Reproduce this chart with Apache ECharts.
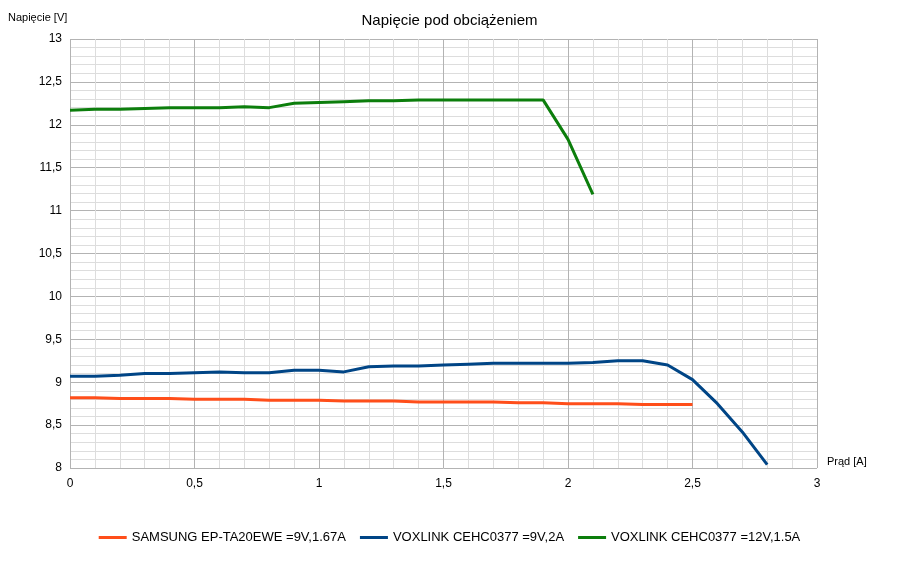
<!DOCTYPE html><html><head><meta charset="utf-8"><script src="https://cdn.jsdelivr.net/npm/echarts@6/dist/echarts.min.js"></script></head><body style="margin:0"><div id="c" style="width:899px;height:577px"></div><script>
const samsung=[8.82,8.82,8.81,8.81,8.81,8.80,8.80,8.80,8.79,8.79,8.79,8.78,8.78,8.78,8.77,8.77,8.77,8.77,8.76,8.76,8.75,8.75,8.75,8.74,8.74,8.74];
const vox9=[9.07,9.07,9.08,9.10,9.10,9.11,9.12,9.11,9.11,9.14,9.14,9.12,9.18,9.19,9.19,9.20,9.21,9.22,9.22,9.22,9.22,9.23,9.25,9.25,9.20,9.03,8.75,8.42,8.04];
const vox12=[12.17,12.18,12.18,12.19,12.20,12.20,12.20,12.21,12.20,12.25,12.26,12.27,12.28,12.28,12.29,12.29,12.29,12.29,12.29,12.29,11.83,11.19];
const names=['SAMSUNG EP-TA20EWE =9V,1.67A','VOXLINK CEHC0377 =9V,2A','VOXLINK CEHC0377 =12V,1.5A'];
const colors=['#ff4e1a','#004586','#0c7e0c'];
const pts=a=>a.map((v,i)=>[+(i*0.1).toFixed(1),v]);
const fmt=v=>String(v).replace('.',',');
const font='"Liberation Sans", Arial, sans-serif';
const ch=echarts.init(document.getElementById('c'));
ch.setOption({
 animation:false,
 title:{text:'Napięcie pod obciążeniem',left:'center',top:8,textStyle:{fontFamily:font,fontSize:15,fontWeight:'normal',color:'#000'}},
 legend:{bottom:28,itemWidth:28,itemHeight:3,icon:'rect',itemGap:14,textStyle:{fontFamily:font,fontSize:13,color:'#000'},data:names},
 grid:{left:70,right:82,top:39,bottom:109},
 xAxis:{type:'value',min:0,max:3,interval:0.5,name:'Prąd [A]',nameGap:10,nameTextStyle:{fontFamily:font,fontSize:11,color:'#000',verticalAlign:'bottom',padding:[0,0,1,0]},
  axisLine:{show:false},axisTick:{show:false},axisLabel:{fontFamily:font,fontSize:12,color:'#000',formatter:fmt,margin:10},
  splitLine:{lineStyle:{color:'#b3b3b3'}},minorTick:{show:false,splitNumber:5},minorSplitLine:{show:true,lineStyle:{color:'#dddddd'}}},
 yAxis:{type:'value',min:8,max:13,interval:0.5,name:'Napięcie [V]',nameLocation:'end',nameGap:16,nameTextStyle:{fontFamily:font,fontSize:11,color:'#000',align:'left',padding:[0,0,0,-62]},
  axisLine:{show:false},axisTick:{show:false},axisLabel:{fontFamily:font,fontSize:12,color:'#000',formatter:fmt,margin:8},
  splitLine:{lineStyle:{color:'#b3b3b3'}},minorTick:{show:false,splitNumber:5},minorSplitLine:{show:true,lineStyle:{color:'#dddddd'}}},
 series:[samsung,vox9,vox12].map((d,i)=>({name:names[i],type:'line',data:pts(d),showSymbol:false,color:colors[i],lineStyle:{width:3,color:colors[i]}}))
});
</script></body></html>
